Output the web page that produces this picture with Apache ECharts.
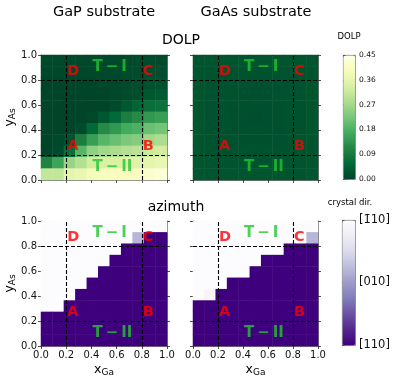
<!DOCTYPE html>
<html>
<head>
<meta charset="utf-8">
<script src="https://cdn.jsdelivr.net/npm/echarts@6/dist/echarts.min.js"></script>
<style>
  html, body { margin: 0; padding: 0; background: #fff; }
  #chart { width: 399px; height: 381px; }
</style>
</head>
<body>
<div id="chart"></div>
<script>
// 11 x 11 grid over x_Ga, y_As in [0, 1]
const cellIdx = ["0", "1", "2", "3", "4", "5", "6", "7", "8", "9", "10"];

// rows listed top (y_As = 1) to bottom (y_As = 0)
const dolpGaP = [
  [0.005, 0.005, 0.005, 0.005, 0.005, 0.005, 0.005, 0.005, 0.01, 0.01, 0.01],
  [0.005, 0.005, 0.005, 0.005, 0.005, 0.005, 0.005, 0.01, 0.01, 0.015, 0.015],
  [0, 0, 0, 0, 0, 0.005, 0.005, 0.01, 0.015, 0.02, 0.02],
  [0, 0, 0, 0, 0, 0, 0.005, 0.01, 0.015, 0.03, 0.035],
  [0, 0, 0, 0, 0, 0, 0.01, 0.03, 0.05, 0.07, 0.075],
  [0, 0, 0, 0, 0.005, 0.03, 0.06, 0.1, 0.12, 0.14, 0.15],
  [0, 0, 0, 0.01, 0.06, 0.12, 0.14, 0.17, 0.18, 0.21, 0.22],
  [0, 0.005, 0.02, 0.1, 0.15, 0.19, 0.21, 0.23, 0.24, 0.27, 0.28],
  [0, 0.01, 0.07, 0.19, 0.25, 0.27, 0.28, 0.29, 0.3, 0.32, 0.33],
  [0.11, 0.16, 0.26, 0.29, 0.33, 0.34, 0.34, 0.35, 0.35, 0.36, 0.37],
  [0.31, 0.31, 0.36, 0.37, 0.39, 0.4, 0.4, 0.4, 0.4, 0.42, 0.43],
];

const dolpGaAs = [
  [0.025, 0.025, 0.025, 0.025, 0.025, 0.025, 0.025, 0.025, 0.025, 0.025, 0.024],
  [0.025, 0.022, 0.022, 0.021, 0.021, 0.021, 0.021, 0.021, 0.022, 0.022, 0.024],
  [0.025, 0.022, 0.021, 0.02, 0.02, 0.02, 0.02, 0.02, 0.021, 0.022, 0.025],
  [0.025, 0.022, 0.02, 0.019, 0.018, 0.018, 0.018, 0.019, 0.02, 0.022, 0.025],
  [0.025, 0.021, 0.02, 0.018, 0.016, 0.016, 0.016, 0.018, 0.02, 0.021, 0.025],
  [0.025, 0.021, 0.02, 0.018, 0.016, 0.015, 0.016, 0.018, 0.02, 0.021, 0.025],
  [0.025, 0.021, 0.02, 0.018, 0.016, 0.016, 0.016, 0.018, 0.02, 0.021, 0.025],
  [0.025, 0.022, 0.02, 0.019, 0.018, 0.018, 0.018, 0.019, 0.02, 0.022, 0.025],
  [0.025, 0.022, 0.021, 0.02, 0.02, 0.02, 0.02, 0.02, 0.021, 0.022, 0.025],
  [0.026, 0.024, 0.023, 0.023, 0.022, 0.022, 0.022, 0.023, 0.023, 0.024, 0.026],
  [0.027, 0.026, 0.026, 0.026, 0.026, 0.026, 0.026, 0.026, 0.026, 0.026, 0.027],
];

// azimuth: 0 = [110], 0.5 = [010], 1 = [-110]
const azGaP = [
  [1, 1, 1, 1, 1, 1, 1, 1, 1, 1, 1],
  [1, 1, 1, 1, 1, 1, 1, 1, 0.6, 0, 0],
  [1, 1, 1, 1, 1, 1, 1, 0, 0, 0, 0],
  [1, 1, 1, 1, 1, 1, 0, 0, 0, 0, 0],
  [1, 1, 1, 1, 1, 0, 0, 0, 0, 0, 0],
  [1, 1, 1, 1, 0, 0, 0, 0, 0, 0, 0],
  [1, 1, 1, 0, 0, 0, 0, 0, 0, 0, 0],
  [1, 1, 0, 0, 0, 0, 0, 0, 0, 0, 0],
  [0, 0, 0, 0, 0, 0, 0, 0, 0, 0, 0],
  [0, 0, 0, 0, 0, 0, 0, 0, 0, 0, 0],
  [0, 0, 0, 0, 0, 0, 0, 0, 0, 0, 0],
];

const azGaAs = [
  [1, 1, 1, 1, 1, 1, 1, 1, 1, 1, 1],
  [1, 1, 1, 1, 1, 1, 1, 1, 1, 1, 0.6],
  [1, 1, 1, 1, 1, 1, 1, 1, 0, 0, 0],
  [1, 1, 1, 1, 1, 1, 0, 0, 0, 0, 0],
  [1, 1, 1, 1, 1, 0, 0, 0, 0, 0, 0],
  [1, 1, 1, 0, 0, 0, 0, 0, 0, 0, 0],
  [1, 0.95, 0, 0, 0, 0, 0, 0, 0, 0, 0],
  [0, 0, 0, 0, 0, 0, 0, 0, 0, 0, 0],
  [0, 0, 0, 0, 0, 0, 0, 0, 0, 0, 0],
  [0, 0, 0, 0, 0, 0, 0, 0, 0, 0, 0],
  [0, 0, 0, 0, 0, 0, 0, 0, 0, 0, 0],
];

const axisTicks = [0, 0.2, 0.4, 0.6, 0.8, 1.0];
const dashedAt = [0.2, 0.8];
const cornerNames = ["A", "B", "C", "D"];
const cornerX = [0.2, 0.8, 0.8, 0.2];
const cornerY = [0.2, 0.2, 0.8, 0.8];
const phaseNames = ["T\u2009\u2212\u2009I", "T\u2009\u2212\u2009II"];
const phaseX = [0.4, 0.4];
const phaseY = [0.9, 0.1];
const dolpTicks = [0, 0.09, 0.18, 0.27, 0.36, 0.45];
const crystalDirLabels = ["[110]", "[010]", "[1\u030410]"];

const ylgnR = ["#004529", "#006837", "#238443", "#41ab5d", "#78c679", "#addd8e", "#d9f0a3", "#f7fcb9", "#ffffe5"];
const purplesR = ["#3f007d", "#54278f", "#6a51a3", "#807dba", "#9e9ac8", "#bcbddc", "#dadaeb", "#efedf5", "#fcfbfd"];

const FONT = "DejaVu Sans";
const spine = "#555";

const toCells = (rows) => {
  const out = [];
  rows.forEach((row, r) => {
    row.forEach((v, c) => out.push([c, rows.length - 1 - r, v]));
  });
  return out;
};

const panels = [
  { left: 41, top: 55, width: 126, height: 125, data: dolpGaP, xLabels: false, yLabels: true },
  { left: 193, top: 55, width: 125, height: 125, data: dolpGaAs, xLabels: false, yLabels: false },
  { left: 41, top: 221, width: 126, height: 125, data: azGaP, xLabels: true, yLabels: true },
  { left: 193, top: 221, width: 125, height: 125, data: azGaAs, xLabels: true, yLabels: false },
];

const subRich = {
  m: { fontSize: 12.5, fontFamily: FONT, color: "#000", lineHeight: 14 },
  s: { fontSize: 9, fontFamily: FONT, color: "#000", lineHeight: 7, verticalAlign: "bottom" },
};

const grid = [];
const xAxis = [];
const yAxis = [];
const heatSeries = [];
const overlaySeries = [];

const valueAxis = (gridIndex, position, showTicks, showLabels) => ({
  gridIndex,
  type: "value",
  position,
  min: 0,
  max: 1,
  interval: 0.2,
  axisLine: { show: true, onZero: false, lineStyle: { color: spine, width: 0.8 } },
  axisTick: { show: showTicks, length: 3, lineStyle: { color: "#222", width: 0.8 } },
  axisLabel: {
    show: showLabels,
    fontSize: 10,
    fontFamily: FONT,
    color: "#111",
    margin: 4,
    formatter: (v) => v.toFixed(1),
  },
  splitLine: { show: false },
});

panels.forEach((p, i) => {
  grid.push({ left: p.left, top: p.top, width: p.width, height: p.height, outerBoundsMode: "none" });

  const catX = xAxis.length;
  xAxis.push({ gridIndex: i, type: "category", data: cellIdx, show: false });
  const valX = xAxis.length;
  const bottomAxis = valueAxis(i, "bottom", true, p.xLabels);
  if (p.xLabels) {
    bottomAxis.name = "{m|x}{s|Ga}";
    bottomAxis.nameLocation = "middle";
    bottomAxis.nameGap = 17;
    bottomAxis.nameTextStyle = { rich: subRich };
  }
  xAxis.push(bottomAxis);
  xAxis.push(valueAxis(i, "top", false, false));

  const catY = yAxis.length;
  yAxis.push({ gridIndex: i, type: "category", data: cellIdx, show: false });
  const valY = yAxis.length;
  const leftAxis = valueAxis(i, "left", true, p.yLabels);
  if (p.yLabels) {
    leftAxis.name = "{m|y}{s|As}";
    leftAxis.nameLocation = "middle";
    leftAxis.nameGap = 22;
    leftAxis.nameRotate = 90;
    leftAxis.nameTextStyle = { rich: subRich };
  }
  yAxis.push(leftAxis);
  yAxis.push(valueAxis(i, "right", true, false));

  heatSeries.push({
    type: "heatmap",
    xAxisIndex: catX,
    yAxisIndex: catY,
    data: toCells(p.data),
    emphasis: { disabled: true },
    silent: true,
  });

  overlaySeries.push({
    type: "scatter",
    xAxisIndex: valX,
    yAxisIndex: valY,
    symbolSize: 2,
    itemStyle: { color: "transparent" },
    silent: true,
    data: cornerNames.map((n, k) => ({ value: [cornerX[k], cornerY[k]], name: n })),
    label: {
      show: true,
      position: [2, 0],
      align: "left",
      verticalAlign: "bottom",
      formatter: (d) => d.name,
      color: "#ff0000",
      fontSize: 14.5,
      fontWeight: "bold",
      fontFamily: FONT,
    },
    markLine: {
      silent: true,
      symbol: ["none", "none"],
      label: { show: false },
      lineStyle: { color: "#000", type: [4, 2], width: 1.1 },
      data: dashedAt.map((v) => ({ xAxis: v })).concat(dashedAt.map((v) => ({ yAxis: v }))),
    },
  });

  overlaySeries.push({
    type: "scatter",
    xAxisIndex: valX,
    yAxisIndex: valY,
    symbolSize: 2,
    itemStyle: { color: "transparent" },
    silent: true,
    data: phaseNames.map((n, k) => ({ value: [phaseX[k], phaseY[k]], name: n })),
    label: {
      show: true,
      position: [2, 1],
      align: "left",
      verticalAlign: "middle",
      formatter: (d) => d.name,
      color: "#1fc72f",
      fontSize: 15,
      fontWeight: "bold",
      fontFamily: FONT,
    },
  });
});

// colorbar tick axes
const cbars = [
  { left: 343, top: 55, width: 12, height: 124, max: 0.45, interval: 0.09, fontSize: 7.5,
    formatter: (v) => v.toFixed(2) },
  { left: 342, top: 220, width: 13, height: 125, max: 1, interval: 0.5, fontSize: 11.5,
    formatter: (v) => crystalDirLabels[Math.round(v * 2)] },
];
cbars.forEach((c) => {
  const gi = grid.length;
  grid.push({ left: c.left, top: c.top, width: c.width, height: c.height, outerBoundsMode: "none" });
  xAxis.push({ gridIndex: gi, type: "value", show: false, min: 0, max: 1 });
  yAxis.push({
    gridIndex: gi,
    type: "value",
    position: "right",
    min: 0,
    max: c.max,
    interval: c.interval,
    axisLine: { show: false },
    axisTick: { show: true, length: 3, lineStyle: { color: "#222", width: 0.8 } },
    axisLabel: { fontSize: c.fontSize, fontFamily: FONT, color: "#111", margin: 4, formatter: c.formatter },
    splitLine: { show: false },
  });
});

const chart = echarts.init(document.getElementById("chart"));

const titleText = (text, x, y, size) => ({
  type: "text",
  x,
  y,
  silent: true,
  style: { text, fontSize: size, fontFamily: FONT, fill: "#000", align: "center", verticalAlign: "middle" },
});

chart.setOption({
  animation: false,
  backgroundColor: "#fff",
  textStyle: { fontFamily: FONT },
  grid,
  xAxis,
  yAxis,
  visualMap: [
    {
      type: "continuous",
      seriesIndex: [0, 1],
      min: 0,
      max: 0.45,
      calculable: false,
      left: 343,
      top: 55,
      itemWidth: 12,
      itemHeight: 124,
      padding: 0,
      borderColor: spine,
      borderWidth: 0.8,
      inRange: { color: ylgnR },
    },
    {
      type: "continuous",
      seriesIndex: [2, 3],
      min: 0,
      max: 1,
      calculable: false,
      left: 342,
      top: 220,
      itemWidth: 13,
      itemHeight: 125,
      padding: 0,
      borderColor: spine,
      borderWidth: 0.8,
      inRange: { color: purplesR },
    },
  ],
  graphic: [
    titleText("GaP substrate", 104, 12, 14.5),
    titleText("GaAs substrate", 256, 12, 14.5),
    titleText("DOLP", 181, 40, 14),
    titleText("azimuth", 176, 207, 14),
    titleText("DOLP", 349, 37, 8.5),
    titleText("crystal dir.", 350, 203, 8.5),
  ],
  series: heatSeries.concat(overlaySeries),
});
</script>
</body>
</html>
